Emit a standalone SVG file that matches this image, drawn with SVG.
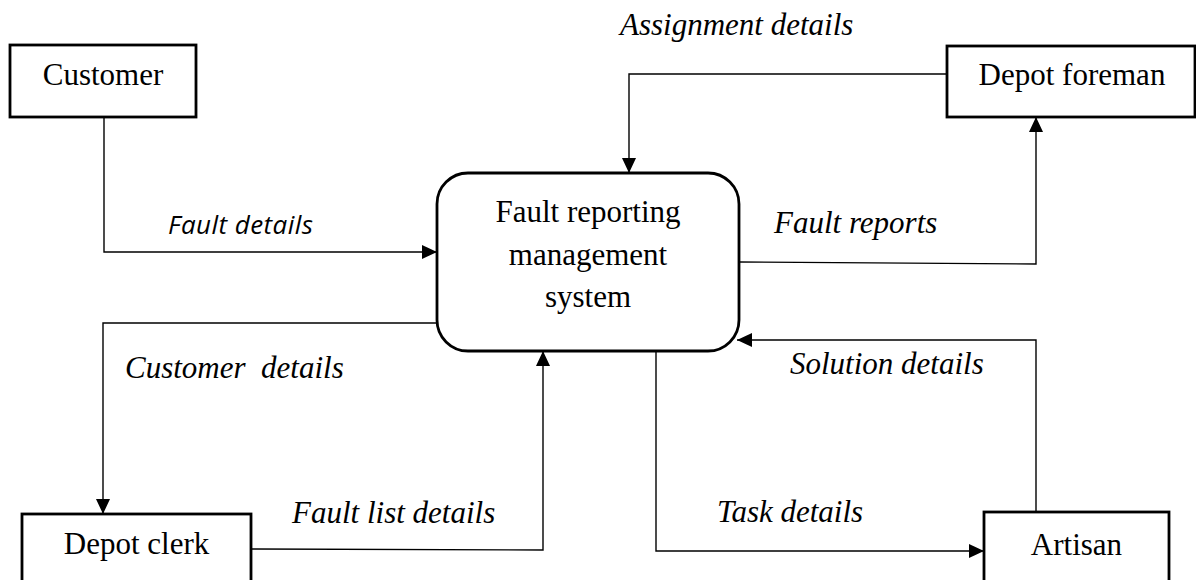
<svg xmlns="http://www.w3.org/2000/svg" width="1196" height="580" viewBox="0 0 1196 580">
<style>
.box{fill:#fff;stroke:#000;stroke-width:2.8}
.node{font-family:"Liberation Serif","Times New Roman",serif;font-size:31px;fill:#000;text-anchor:middle}
.lbl{font-family:"Liberation Serif","Times New Roman",serif;font-size:31px;font-style:italic;fill:#000;white-space:pre}
.lbl2{font-family:"Open Sans","Liberation Sans",sans-serif;font-size:26px;font-style:italic;fill:#000}
.conn{fill:none;stroke:#000;stroke-width:1.4;marker-end:url(#arr)}
</style>
<defs>
<marker id="arr" markerUnits="userSpaceOnUse" markerWidth="16" markerHeight="15" refX="15" refY="7" orient="auto">
<path d="M0,0 L15,7 L0,14 z" fill="#000"/>
</marker>
</defs>
<g id="connectors">
<path class="conn" d="M104,117 V252 H437"/>
<path class="conn" d="M947,74 H629 V173"/>
<path class="conn" d="M739,262 L1036,264 V117"/>
<path class="conn" d="M437,323 H103 V514"/>
<path class="conn" d="M251,549 L543,550 V351"/>
<path class="conn" d="M656,351 V551 H984"/>
<path class="conn" d="M1036,512 V340 H737"/>
</g>
<g id="labels">
<text class="lbl" x="620" y="35">Assignment details</text>
<text class="lbl2" x="168" y="234" textLength="145" lengthAdjust="spacing">Fault details</text>
<text class="lbl" x="774" y="233">Fault reports</text>
<text class="lbl" x="125" y="378">Customer  details</text>
<text class="lbl" x="790" y="374">Solution details</text>
<text class="lbl" x="292" y="523">Fault list details</text>
<text class="lbl" x="717" y="522">Task details</text>
</g>
<g id="customer">
<rect class="box" x="10" y="45" width="186" height="72"/>
<text class="node" x="103" y="85">Customer</text>
</g>
<g id="depot-foreman">
<rect class="box" x="947" y="46" width="248" height="71"/>
<text class="node" x="1072" y="85">Depot foreman</text>
</g>
<g id="process">
<rect class="box" x="437" y="173" width="302" height="178" rx="31" ry="31"/>
<text class="node" x="588" y="222">Fault reporting</text>
<text class="node" x="588" y="265">management</text>
<text class="node" x="588" y="307">system</text>
</g>
<g id="depot-clerk">
<rect class="box" x="22" y="514" width="229" height="80"/>
<text class="node" x="136.5" y="554">Depot clerk</text>
</g>
<g id="artisan">
<rect class="box" x="984" y="512" width="185" height="80"/>
<text class="node" x="1076.5" y="555">Artisan</text>
</g>
</svg>
